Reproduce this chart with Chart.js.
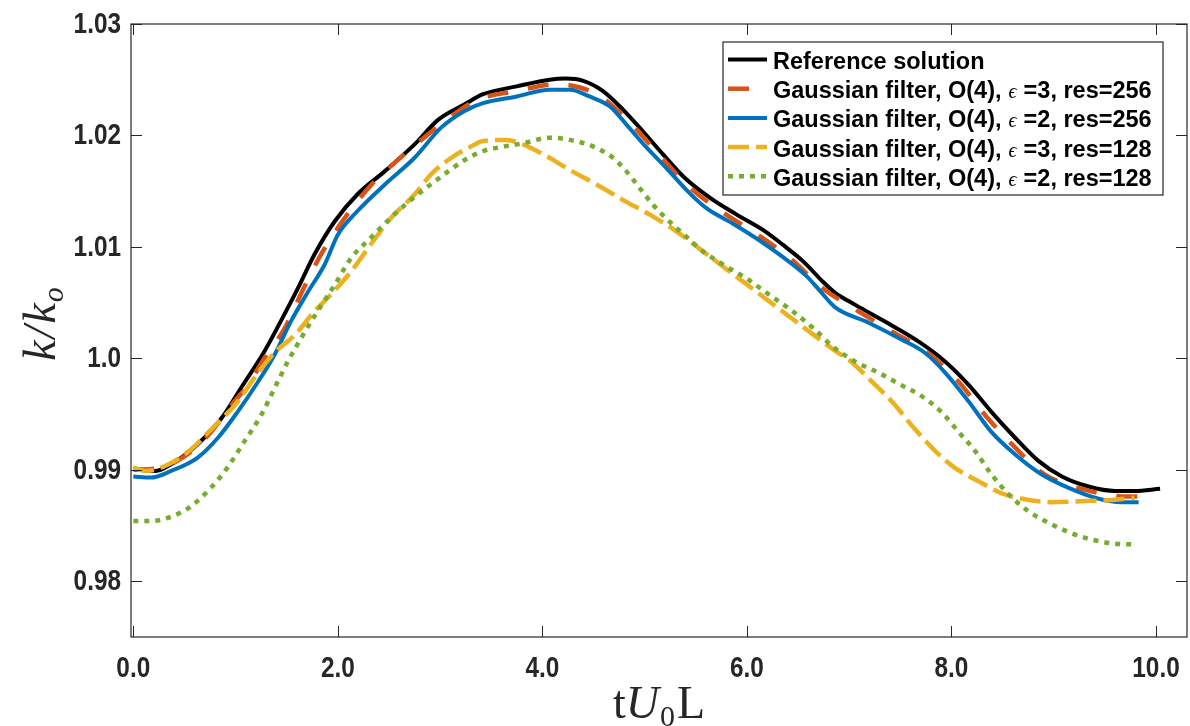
<!DOCTYPE html>
<html>
<head>
<meta charset="utf-8">
<script src="https://cdn.jsdelivr.net/npm/chart.js@4.4.0/dist/chart.umd.min.js"></script>
<style>
  html, body { margin: 0; padding: 0; background: #fff; }
  #wrap { width: 1190px; height: 726px; }
</style>
</head>
<body>
<div id="wrap"><canvas id="grafica" width="1190" height="726"></canvas></div>
<script>
// valores (k/k0 contra tU0/L)
const refT = [0, 0.22, 0.37, 0.63, 0.86, 1.05, 1.28, 1.44, 1.61, 1.77, 1.97, 2.19, 2.46, 2.75, 2.98, 3.24, 3.42, 3.75, 4.07, 4.23, 4.40, 4.59, 4.79, 4.98, 5.18, 5.38, 5.64, 5.90, 6.16, 6.35, 6.55, 6.74, 6.86, 7.06, 7.35, 7.68, 7.94, 8.17, 8.39, 8.62, 8.85, 9.08, 9.34, 9.60, 9.79, 10.04];
const refK = [0.9901, 0.9899, 0.9905, 0.9923, 0.9946, 0.9973, 1.0006, 1.0033, 1.0063, 1.0093, 1.0123, 1.0147, 1.0168, 1.0192, 1.0214, 1.0228, 1.0237, 1.0244, 1.0250, 1.0251, 1.0249, 1.0240, 1.0223, 1.0204, 1.0183, 1.0163, 1.0144, 1.0129, 1.0115, 1.0102, 1.0087, 1.0069, 1.0059, 1.0048, 1.0033, 1.0015, 0.9997, 0.9976, 0.9952, 0.9929, 0.9908, 0.9894, 0.9885, 0.9881, 0.9881, 0.9883];

const g3r256T = [0, 0.27, 0.56, 0.76, 0.96, 1.12, 1.28, 1.48, 1.64, 1.84, 2.06, 2.33, 2.65, 2.98, 3.34, 3.75, 4.14, 4.53, 4.82, 5.11, 5.41, 5.73, 6.09, 6.42, 6.74, 7.06, 7.42, 7.77, 8.07, 8.33, 8.59, 8.91, 9.31, 9.73, 9.83];
const g3r256K = [0.9900, 0.9902, 0.9916, 0.9934, 0.9958, 0.9976, 1.0000, 1.0027, 1.0058, 1.0094, 1.0125, 1.0156, 1.0183, 1.0208, 1.0231, 1.0240, 1.0246, 1.0237, 1.0215, 1.0186, 1.0156, 1.0133, 1.0112, 1.0090, 1.0063, 1.0044, 1.0024, 1.0005, 0.9979, 0.9949, 0.9923, 0.9896, 0.9882, 0.9876, 0.9876];

const g2r256T = [0, 0.17, 0.37, 0.63, 0.83, 1.02, 1.22, 1.38, 1.54, 1.71, 1.87, 2.00, 2.19, 2.46, 2.75, 3.01, 3.24, 3.42, 3.75, 4.07, 4.27, 4.46, 4.66, 4.82, 5.02, 5.21, 5.41, 5.60, 5.86, 6.12, 6.35, 6.58, 6.71, 6.86, 7.19, 7.51, 7.74, 7.94, 8.17, 8.39, 8.62, 8.88, 9.14, 9.44, 9.66, 9.83];
const g2r256K = [0.9894, 0.9893, 0.9899, 0.9911, 0.9929, 0.9952, 0.9979, 1.0003, 1.0033, 1.0060, 1.0084, 1.0111, 1.0132, 1.0156, 1.0180, 1.0207, 1.0222, 1.0229, 1.0235, 1.0241, 1.0241, 1.0235, 1.0226, 1.0210, 1.0189, 1.0171, 1.0151, 1.0135, 1.0121, 1.0106, 1.0091, 1.0074, 1.0061, 1.0046, 1.0032, 1.0017, 1.0005, 0.9987, 0.9961, 0.9934, 0.9914, 0.9896, 0.9884, 0.9874, 0.9871, 0.9871];

const g3r128T = [0, 0.11, 0.30, 0.56, 0.79, 1.02, 1.18, 1.38, 1.58, 1.77, 1.93, 2.13, 2.32, 2.52, 2.75, 2.91, 3.11, 3.30, 3.42, 3.65, 3.78, 4.01, 4.27, 4.53, 4.79, 5.05, 5.31, 5.57, 5.83, 6.09, 6.35, 6.61, 6.86, 7.02, 7.19, 7.42, 7.61, 7.84, 8.03, 8.26, 8.49, 8.69, 8.98, 9.31, 9.57, 9.79];
const g3r128K = [0.9902, 0.9899, 0.9903, 0.9918, 0.9939, 0.9961, 0.9982, 1.0005, 1.0021, 1.0042, 1.0057, 1.0078, 1.0102, 1.0126, 1.0147, 1.0165, 1.0180, 1.0190, 1.0195, 1.0196, 1.0193, 1.0183, 1.0169, 1.0156, 1.0142, 1.0129, 1.0114, 1.0096, 1.0078, 1.0060, 1.0042, 1.0024, 1.0007, 0.9997, 0.9982, 0.9961, 0.9940, 0.9917, 0.9902, 0.9890, 0.9879, 0.9874, 0.9871, 0.9872, 0.9873, 0.9875];

const g2r128T = [0, 0.17, 0.37, 0.56, 0.76, 0.92, 1.09, 1.25, 1.38, 1.51, 1.64, 1.80, 1.97, 2.13, 2.32, 2.55, 2.78, 3.01, 3.24, 3.42, 3.62, 3.81, 4.07, 4.27, 4.50, 4.69, 4.82, 4.95, 5.08, 5.24, 5.41, 5.57, 5.77, 5.99, 6.22, 6.45, 6.65, 6.86, 7.06, 7.29, 7.51, 7.71, 7.90, 8.07, 8.23, 8.39, 8.56, 8.75, 8.98, 9.27, 9.57, 9.79];
const g2r128K = [0.9854, 0.9854, 0.9858, 0.9867, 0.9884, 0.9902, 0.9926, 0.9949, 0.9973, 0.9997, 1.0018, 1.0042, 1.0066, 1.0090, 1.0108, 1.0129, 1.0147, 1.0163, 1.0178, 1.0186, 1.0190, 1.0193, 1.0198, 1.0196, 1.0190, 1.0180, 1.0168, 1.0153, 1.0138, 1.0123, 1.0109, 1.0096, 1.0084, 1.0072, 1.0057, 1.0042, 1.0027, 1.0009, 0.9997, 0.9987, 0.9976, 0.9966, 0.9952, 0.9934, 0.9917, 0.9896, 0.9878, 0.9863, 0.9851, 0.9840, 0.9834, 0.9833];

const xTickVals = [0, 2, 4, 6, 8, 10];
const xTickLabels = ['0.0', '2.0', '4.0', '6.0', '8.0', '10.0'];
const yTickVals = [0.98, 0.99, 1.0, 1.01, 1.02, 1.03];
const yTickLabels = ['0.98', '0.99', '1.0', '1.01', '1.02', '1.03'];

const nombres = [
  'Reference solution',
  ['Gaussian filter, O(4),', '\u03f5', '=3, res=256'],
  ['Gaussian filter, O(4),', '\u03f5', '=2, res=256'],
  ['Gaussian filter, O(4),', '\u03f5', '=3, res=128'],
  ['Gaussian filter, O(4),', '\u03f5', '=2, res=128']
];

const puntos = (t, k) => t.map((v, i) => ({x: v, y: k[i]}));

const estilos = [
  {color: '#000000', ancho: 4, dash: []},
  {color: '#D95319', ancho: 4.5, dash: [21, 20]},
  {color: '#0072BD', ancho: 4, dash: []},
  {color: '#EDB120', ancho: 4.5, dash: [21, 7]},
  {color: '#77AC30', ancho: 4.5, dash: [5, 6]}
];
const series = [[refT, refK], [g3r256T, g3r256K], [g2r256T, g2r256K], [g3r128T, g3r128K], [g2r128T, g2r128K]];

const sans = '"Liberation Sans", Arial, Helvetica, sans-serif';
const serif = '"Liberation Serif", "Times New Roman", serif';

// texto con varias fuentes seguidas (subindices, epsilon)
function tramos(ctx, partes, x, y) {
  partes.forEach(p => {
    ctx.font = p.f;
    ctx.fillText(p.t, x, y + (p.dy || 0));
    x += ctx.measureText(p.t).width + (p.gap || 0);
  });
  return x;
}
function anchoTramos(ctx, partes) {
  let w = 0;
  partes.forEach(p => { ctx.font = p.f; w += ctx.measureText(p.t).width + (p.gap || 0); });
  return w;
}

// etiqueta de tick algo estrecha, como en la figura
function etiqueta(ctx, txt, x, y, align) {
  ctx.save();
  ctx.font = 'bold 29px ' + sans;
  ctx.textBaseline = 'middle';
  ctx.textAlign = align;
  ctx.translate(x, y);
  ctx.scale(0.84, 1);
  ctx.fillText(txt, 0, 0);
  ctx.restore();
}

const extras = {
  id: 'extras',
  afterDatasetsDraw(chart) {
    const ctx = chart.ctx;
    const a = chart.chartArea;
    const sx = chart.scales.x, sy = chart.scales.y;
    ctx.save();
    ctx.strokeStyle = '#262626';
    ctx.lineWidth = 1.2;
    ctx.setLineDash([]);
    ctx.strokeRect(a.left, a.top, a.right - a.left, a.bottom - a.top);
    ctx.beginPath();
    xTickVals.forEach(v => {
      const px = Math.round(sx.getPixelForValue(v)) + 0.5;
      ctx.moveTo(px, a.bottom); ctx.lineTo(px, a.bottom - 11);
      ctx.moveTo(px, a.top); ctx.lineTo(px, a.top + 11);
    });
    yTickVals.forEach(v => {
      const py = Math.round(sy.getPixelForValue(v)) + 0.5;
      ctx.moveTo(a.left, py); ctx.lineTo(a.left + 11, py);
      ctx.moveTo(a.right, py); ctx.lineTo(a.right - 11, py);
    });
    ctx.lineWidth = 1;
    ctx.stroke();

    // etiquetas de los ticks
    ctx.fillStyle = '#262626';
    xTickVals.forEach((v, i) => etiqueta(ctx, xTickLabels[i], sx.getPixelForValue(v), a.bottom + 32, 'center'));
    yTickVals.forEach((v, i) => etiqueta(ctx, yTickLabels[i], a.left - 10, sy.getPixelForValue(v) + 1, 'right'));

    // titulo eje x: tU0L
    ctx.textAlign = 'left';
    ctx.textBaseline = 'alphabetic';
    const partesX = [
      {t: 't', f: '46px ' + serif},
      {t: 'U', f: 'italic 46px ' + serif, gap: 1},
      {t: '0', f: '30px ' + serif, dy: 8, gap: 2},
      {t: 'L', f: '46px ' + serif}
    ];
    tramos(ctx, partesX, (a.left + a.right) / 2 - anchoTramos(ctx, partesX) / 2, 718);

    // titulo eje y: k/k_o
    ctx.save();
    ctx.translate(55, 324);
    ctx.rotate(-Math.PI / 2);
    const partesY = [
      {t: 'k', f: 'italic 46px ' + serif, gap: 2},
      {t: '/', f: 'italic 46px ' + serif, gap: 2},
      {t: 'k', f: 'italic 46px ' + serif, gap: 1},
      {t: 'o', f: 'italic 30px ' + serif, dy: 8}
    ];
    tramos(ctx, partesY, -anchoTramos(ctx, partesY) / 2, 0);
    ctx.restore();

    // leyenda
    const lx = 723, ly = 42, lw = 440, lh = 153;
    ctx.fillStyle = '#ffffff';
    ctx.fillRect(lx, ly, lw, lh);
    ctx.strokeStyle = '#262626';
    ctx.lineWidth = 1.2;
    ctx.strokeRect(lx, ly, lw, lh);
    nombres.forEach((n, i) => {
      const base = 69 + i * 29.2;
      const e = estilos[i];
      ctx.beginPath();
      ctx.strokeStyle = e.color;
      ctx.lineWidth = e.ancho;
      ctx.lineCap = 'butt';
      ctx.setLineDash(e.dash);
      ctx.moveTo(728, base - 9.5);
      ctx.lineTo(767, base - 9.5);
      ctx.stroke();
      ctx.setLineDash([]);
      ctx.fillStyle = '#000000';
      if (typeof n === 'string') {
        tramos(ctx, [{t: n, f: 'bold 23.5px ' + sans}], 773, base);
      } else {
        tramos(ctx, [
          {t: n[0], f: 'bold 23.5px ' + sans, gap: 7},
          {t: n[1], f: 'italic 20px ' + serif, gap: 7},
          {t: n[2], f: 'bold 23.5px ' + sans}
        ], 773, base);
      }
    });
    ctx.restore();
  }
};

const grafica = new Chart(document.getElementById('grafica'), {
  type: 'line',
  data: {
    datasets: series.map((s, i) => ({
      label: typeof nombres[i] === 'string' ? nombres[i] : nombres[i].join(' '),
      data: puntos(s[0], s[1]),
      borderColor: estilos[i].color,
      backgroundColor: estilos[i].color,
      borderWidth: estilos[i].ancho,
      borderDash: estilos[i].dash,
      borderCapStyle: 'butt',
      pointRadius: 0,
      fill: false,
      cubicInterpolationMode: 'monotone',
      order: 5 - i
    }))
  },
  options: {
    responsive: false,
    animation: false,
    devicePixelRatio: 1,
    layout: { padding: { left: 0, top: 24, right: 3, bottom: 0 } },
    plugins: {
      legend: { display: false },
      tooltip: { enabled: false }
    },
    scales: {
      x: {
        type: 'linear',
        min: -0.0225,
        max: 10.303,
        grid: { display: false, drawTicks: false },
        border: { display: false },
        afterBuildTicks: (s) => { s.ticks = xTickVals.map(v => ({ value: v })); },
        afterFit: (s) => { s.height = 89; },
        ticks: { display: false }
      },
      y: {
        type: 'linear',
        min: 0.975,
        max: 1.03,
        grid: { display: false, drawTicks: false },
        border: { display: false },
        afterBuildTicks: (s) => { s.ticks = yTickVals.map(v => ({ value: v })); },
        afterFit: (s) => { s.width = 131; },
        ticks: { display: false }
      }
    }
  },
  plugins: [extras]
});
</script>
</body>
</html>
